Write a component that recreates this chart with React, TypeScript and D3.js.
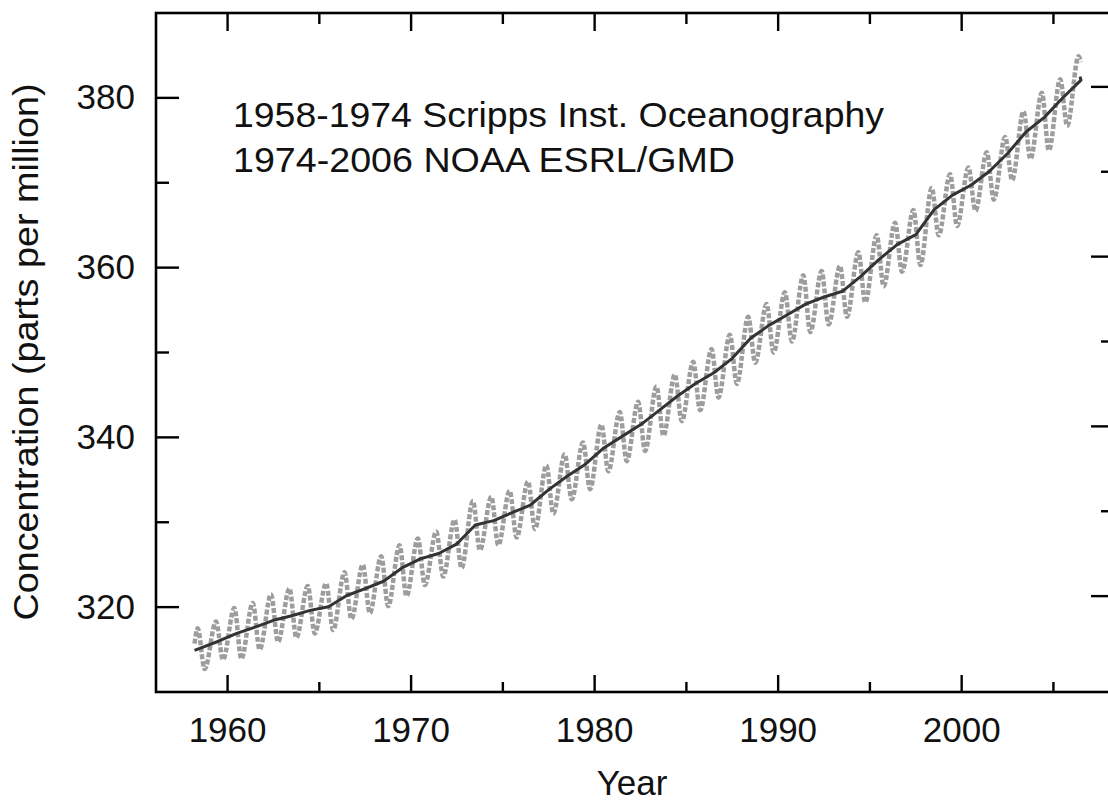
import React, { useEffect } from 'react';
import * as d3 from 'd3';

// Mauna Loa CO2 (ppm)
const years = d3.range(1958, 2007);
// May maxima, one per year 1958..2006
const peaks = [
    317.5, 318.3, 319.9, 320.5, 321.5, 322.2, 322.5, 322.8, 324.1, 325.0,
    326.0, 327.3, 328.1, 328.9, 330.3, 332.5, 333.0, 333.7, 334.8, 336.7,
    338.0, 339.4, 341.5, 343.0, 344.2, 346.0, 347.4, 348.9, 350.4, 352.1,
    354.2, 355.7, 357.1, 359.1, 359.6, 360.2, 361.8, 363.8, 365.3, 366.8,
    369.4, 371.0, 371.8, 373.6, 375.4, 378.4, 380.6, 382.2, 384.9,
];
// Sep/Oct minima, 1958..2005
const troughs = [
    312.7, 313.8, 313.9, 315.0, 315.9, 316.4, 316.9, 317.3, 318.6, 319.3,
    320.1, 321.3, 322.6, 323.6, 324.6, 326.7, 327.3, 328.2, 329.2, 331.0,
    332.7, 333.9, 336.0, 337.2, 338.4, 340.2, 341.9, 343.2, 344.7, 346.3,
    348.8, 350.0, 351.3, 352.4, 353.3, 354.2, 355.9, 357.8, 359.5, 360.3,
    363.8, 364.9, 366.7, 368.0, 370.3, 372.8, 373.8, 376.7,
];
const seriesStart: [number, number] = [1958.2, 315.7];
const seriesEnd: [number, number] = [2006.5, 384.2];

// annual means (deseasonalised trend), 1959..2006
const trendYears = d3.range(1959, 2007);
const annualMeans = [
    315.98, 316.91, 317.64, 318.45, 318.99, 319.62, 320.04, 321.37, 322.18, 323.05,
    324.62, 325.68, 326.32, 327.46, 329.68, 330.19, 331.12, 332.03, 333.84, 335.41,
    336.84, 338.76, 340.12, 341.48, 343.15, 344.85, 346.35, 347.61, 349.31, 351.69,
    353.20, 354.45, 355.70, 356.54, 357.21, 358.96, 360.97, 362.74, 363.88, 366.84,
    368.54, 369.71, 371.32, 373.45, 375.98, 377.70, 379.98, 382.09,
];
const trendStart: [number, number] = [1958.2, 314.9];
const trendEnd: [number, number] = [2006.45, 382.5];

const yTicks = [320, 330, 340, 350, 360, 370, 380];
const xTicks = [1960, 1965, 1970, 1975, 1980, 1985, 1990, 1995, 2000, 2005];
const notes = ['1958-1974 Scripps Inst. Oceanography', '1974-2006 NOAA ESRL/GMD'];
const noteWidths = [651, 502]; // text is a bit wider in the original

const W = 1108;
const H = 802;
const frame = { left: 156, top: 13, right: 1114, bottom: 692 };
const font = '"Liberation Sans", Arial, sans-serif';

export default function App() {
    useEffect(() => {
        document.body.style.margin = '0';
        document.body.style.overflow = 'hidden';
    }, []);

    const x = d3.scaleLinear().domain([1956.1, 2008.3]).range([frame.left, frame.right]);
    const y = d3.scaleLinear().domain([310, 390]).range([frame.bottom, frame.top]);
    // the right-hand ticks sit a little higher in the original
    const yRight = d3.scaleLinear().domain([310, 390]).range([frame.bottom - 11, frame.top - 11]);

    const seasonal: [number, number][] = [seriesStart];
    years.forEach((yr, i) => {
        seasonal.push([yr + 0.37, peaks[i]]);
        if (troughs[i] !== undefined) seasonal.push([yr + 0.75, troughs[i]]);
    });
    seasonal.push(seriesEnd);

    const trend: [number, number][] = [trendStart, ...trendYears.map((yr, i) => [yr + 0.5, annualMeans[i]] as [number, number]), trendEnd];

    const seasonalLine = d3.line<[number, number]>().x(d => x(d[0])).y(d => y(d[1])).curve(d3.curveMonotoneX);
    const trendLine = d3.line<[number, number]>().x(d => x(d[0])).y(d => y(d[1]));

    const major = 23, minor = 13;
    const xMajor = 17, xMinor = 10;

    return (
        <svg width={W} height={H} style={{ display: 'block', background: '#fff' }} fontFamily={font}>
            {/* frame */}
            <rect x={frame.left} y={frame.top} width={frame.right - frame.left} height={frame.bottom - frame.top}
                fill="none" stroke="#000" strokeWidth={2.6} />

            {/* y ticks left + right */}
            {yTicks.map(v => {
                const len = v % 20 === 0 ? major : minor;
                return (
                    <g key={'y' + v} stroke="#000" strokeWidth={2.4}>
                        <line x1={frame.left} x2={frame.left + len} y1={y(v)} y2={y(v)} />
                        <line x1={frame.right} x2={frame.right - len} y1={yRight(v)} y2={yRight(v)} />
                    </g>
                );
            })}
            {yTicks.filter(v => v % 20 === 0).map(v => (
                <text key={'yl' + v} x={135} y={y(v) - 1} textAnchor="end" dominantBaseline="central"
                    fontSize={35} fill="#111">{v}</text>
            ))}

            {/* x ticks bottom + top */}
            {xTicks.map(v => {
                const len = v % 10 === 0 ? xMajor : xMinor;
                return (
                    <g key={'x' + v} stroke="#000" strokeWidth={2.4}>
                        <line x1={x(v)} x2={x(v)} y1={frame.bottom} y2={frame.bottom - len} />
                        <line x1={x(v)} x2={x(v)} y1={frame.top} y2={frame.top + len + 1} />
                    </g>
                );
            })}
            {xTicks.filter(v => v % 10 === 0).map(v => (
                <text key={'xl' + v} x={x(v)} y={742} textAnchor="middle" fontSize={35} fill="#111">{v}</text>
            ))}

            {/* data */}
            <path d={seasonalLine(seasonal) ?? ''} fill="none" stroke="#9d9d9d" strokeWidth={4.5}
                strokeDasharray="5 2" strokeLinejoin="round" />
            <path d={trendLine(trend) ?? ''} fill="none" stroke="#333" strokeWidth={3} strokeLinejoin="round" />

            {/* annotation */}
            {notes.map((t, i) => (
                <text key={t} x={233} y={127 + i * 45} fontSize={35} fill="#111"
                    textLength={noteWidths[i]} lengthAdjust="spacingAndGlyphs">{t}</text>
            ))}

            {/* axis titles */}
            <text x={632} y={795} textAnchor="middle" fontSize={35} fill="#111">Year</text>
            <text transform="translate(38,352) rotate(-90)" textAnchor="middle" fontSize={35} fill="#111"
                textLength={537} lengthAdjust="spacingAndGlyphs">
                Concentration (parts per million)
            </text>
        </svg>
    );
}
